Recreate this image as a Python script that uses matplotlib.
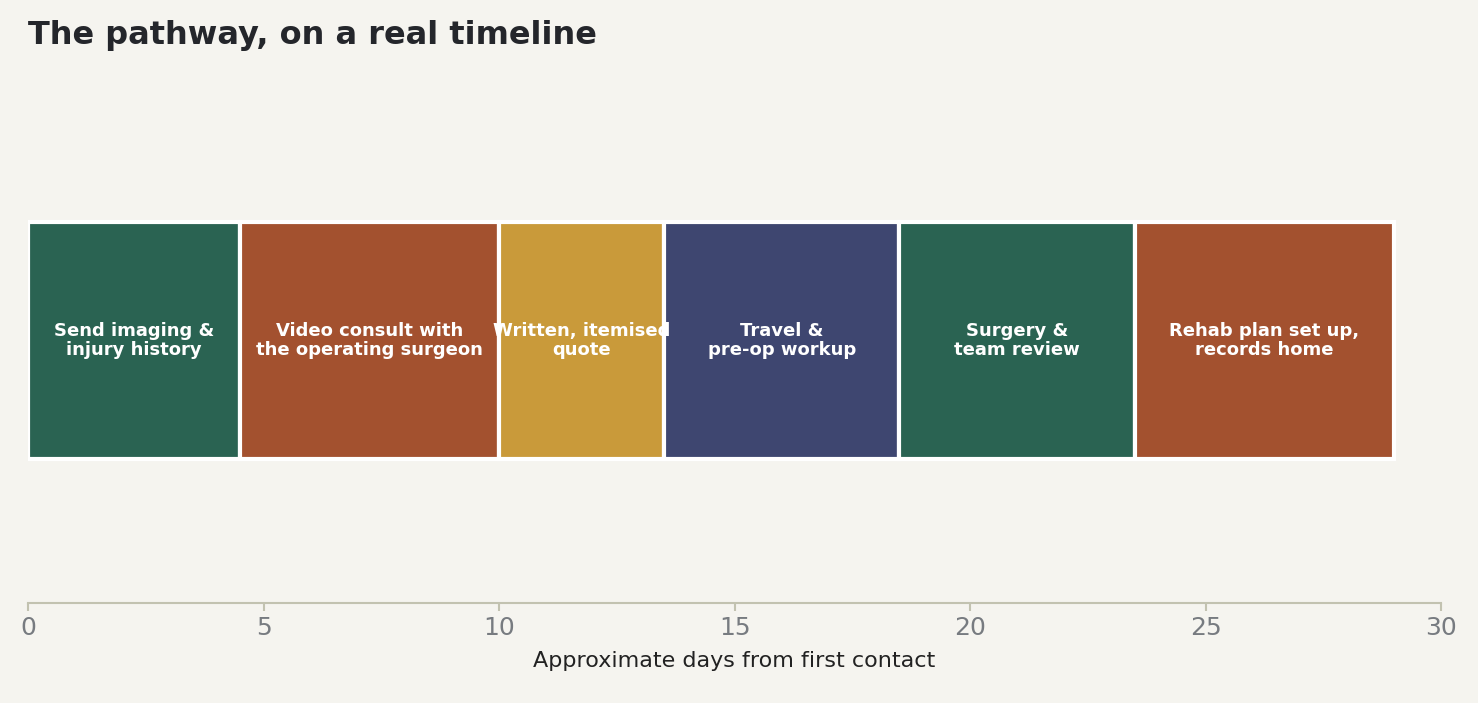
import matplotlib
matplotlib.use("Agg")
import matplotlib.pyplot as plt

steps = ["Send imaging &\ninjury history", "Video consult with\nthe operating surgeon",
         "Written, itemised\nquote", "Travel &\npre-op workup", "Surgery &\nteam review",
         "Rehab plan set up,\nrecords home"]
starts = [0, 4.5, 10, 13.5, 18.5, 23.5]
durations = [4.5, 5.5, 3.5, 5, 5, 5.5]
colors = ["#2a6352", "#a3512f", "#c99a3a", "#3e4670", "#2a6352", "#a3512f"]

bg = "#f5f4ef"
fig = plt.figure(figsize=(14.78, 7.03), dpi=100, facecolor=bg)
ax = fig.add_axes([0.019, 0.142, 0.956, 0.758], facecolor=bg)
ax.barh([0.493]*len(steps), durations, left=starts, height=0.445, color=colors,
        edgecolor="white", linewidth=3)
for s, d, t in zip(starts, durations, steps):
    ax.text(s + d/2, 0.493, t, ha="center", va="center", color="white",
            fontsize=13, fontweight="bold", linespacing=1.1)
ax.set_xlim(0, 30)
ax.set_ylim(0, 1)
ax.set_yticks([])
for sp in ["top", "right", "left"]:
    ax.spines[sp].set_visible(False)
ax.spines["bottom"].set_color("#c2c2b0")
ax.spines["bottom"].set_linewidth(1.5)
ax.tick_params(axis="x", colors="#c2c2b0", labelcolor="#777b80", labelsize=18, length=6, width=1.5)
ax.set_xticks([0, 5, 10, 15, 20, 25, 30])
ax.set_xlabel("Approximate days from first contact", fontsize=16, color="#222222", labelpad=8)
fig.text(0.019, 0.95, "The pathway, on a real timeline", fontsize=23, fontweight="bold",
         color="#24262b", ha="left", va="center")
fig.savefig("out.png", dpi=100, facecolor=bg)
